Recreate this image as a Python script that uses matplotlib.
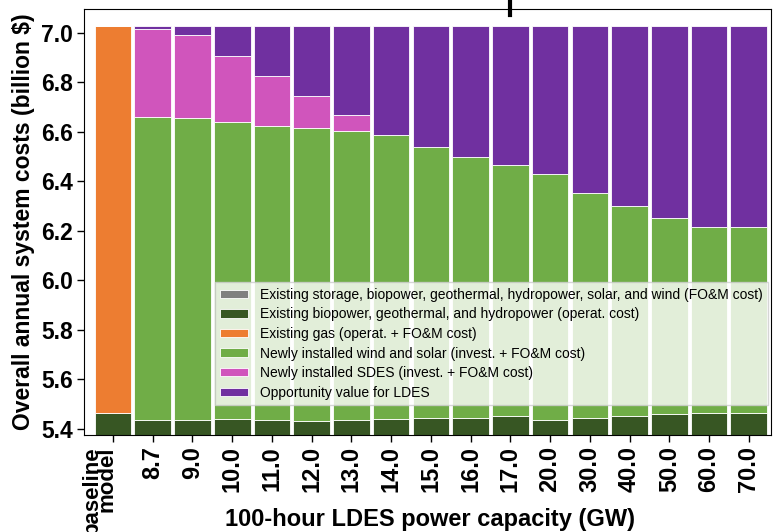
import numpy as np
import matplotlib
matplotlib.use("Agg")
import matplotlib.pyplot as plt
from matplotlib.lines import Line2D
from matplotlib.transforms import ScaledTranslation

plt.rcParams['font.family'] = ['Liberation Sans', 'DejaVu Sans']

# 100-hour LDES power capacity (GW)
cases = ["baseline\nmodel", "8.7", "9.0", "10.0", "11.0", "12.0", "13.0", "14.0", "15.0",
         "16.0", "17.0", "20.0", "30.0", "40.0", "50.0", "60.0", "70.0"]

# cost components, billion $ (grey part sits below the visible y range)
existing_fom = [5.00, 5.00, 5.00, 5.00, 5.00, 5.00, 5.00, 5.00, 5.00,
                5.00, 5.00, 5.00, 5.00, 5.00, 5.00, 5.00, 5.00]
existing_op = [0.461, 0.434, 0.434, 0.438, 0.436, 0.432, 0.434, 0.437, 0.441,
               0.444, 0.451, 0.436, 0.444, 0.451, 0.457, 0.463, 0.463]
gas = [1.565, 0, 0, 0, 0, 0, 0, 0, 0, 0, 0, 0, 0, 0, 0, 0, 0]
wind_solar = [0, 1.226, 1.222, 1.200, 1.187, 1.182, 1.168, 1.150, 1.096,
              1.054, 1.014, 0.994, 0.908, 0.847, 0.795, 0.752, 0.752]
sdes = [0, 0.354, 0.335, 0.268, 0.201, 0.131, 0.065, 0, 0,
        0, 0, 0, 0, 0, 0, 0, 0]
ldes_value = [0, 0.012, 0.035, 0.120, 0.202, 0.281, 0.359, 0.439, 0.489,
              0.528, 0.561, 0.596, 0.674, 0.728, 0.774, 0.811, 0.811]

labels = ["Existing storage, biopower, geothermal, hydropower, solar, and wind (FO&M cost)",
          "Existing biopower, geothermal, and hydropower (operat. cost)",
          "Existing gas (operat. + FO&M cost)",
          "Newly installed wind and solar (invest. + FO&M cost)",
          "Newly installed SDES (invest. + FO&M cost)",
          "Opportunity value for LDES"]
colors = ["#808080", "#375623", "#ED7D31", "#70AD47", "#D055BC", "#7030A0"]

fig = plt.figure(figsize=(7.73, 5.32), dpi=100)
ax = fig.add_axes([0.1087, 0.1823, 0.8887, 0.8007])

x = np.arange(len(cases))
bottom = np.zeros(len(cases))
for vals, lab, col in zip([existing_fom, existing_op, gas, wind_solar, sdes, ldes_value],
                          labels, colors):
    vals = np.array(vals)
    ax.bar(x, vals, bottom=bottom, width=0.92, color=col, label=lab,
           edgecolor="white", linewidth=0.6)
    bottom += vals

ax.set_ylim(5.374, 7.095)
ax.set_xlim(-0.73, 16.56)
ax.set_yticks(np.arange(5.4, 7.01, 0.2))
ax.set_yticklabels([f"{v:.1f}" for v in np.arange(5.4, 7.01, 0.2)],
                   fontsize=16.5, fontweight="bold")
ax.set_xticks(x)
ax.set_xticklabels(cases, rotation=90, fontsize=17, fontweight="bold")
ax.tick_params(axis="both", length=5, width=1, pad=3)

# baseline label: two tight lines, sitting left of its tick
base_lab = ax.get_xticklabels()[0]
base_lab.set_ha("right")
base_lab.set_linespacing(0.62)
base_lab.set_fontsize(16)
base_lab.set_transform(base_lab.get_transform() +
                       ScaledTranslation(3 / 72, 0, fig.dpi_scale_trans))

ax.set_ylabel("Overall annual system costs (billion $)", fontsize=16.5,
              fontweight="bold", labelpad=4)
ax.set_xlabel("100-hour LDES power capacity (GW)", fontsize=17,
              fontweight="bold", va="center")
ax.xaxis.set_label_coords(0.504, -0.199)

leg = ax.legend(loc="lower right", bbox_to_anchor=(0.996, 0.07), borderaxespad=0,
                fontsize=10, framealpha=0.8, edgecolor="#cccccc", fancybox=False,
                handlelength=2.0, handleheight=0.55, labelspacing=0.4,
                borderpad=0.4, handletextpad=0.85)
leg.get_frame().set_linewidth(1.0)

# stray tick mark cut off at the top of the original image
fig.add_artist(Line2D([510 / 773, 510 / 773], [1.0, 1 - 15 / 532],
                      color="black", linewidth=3))

fig.savefig("out.png", dpi=100)
